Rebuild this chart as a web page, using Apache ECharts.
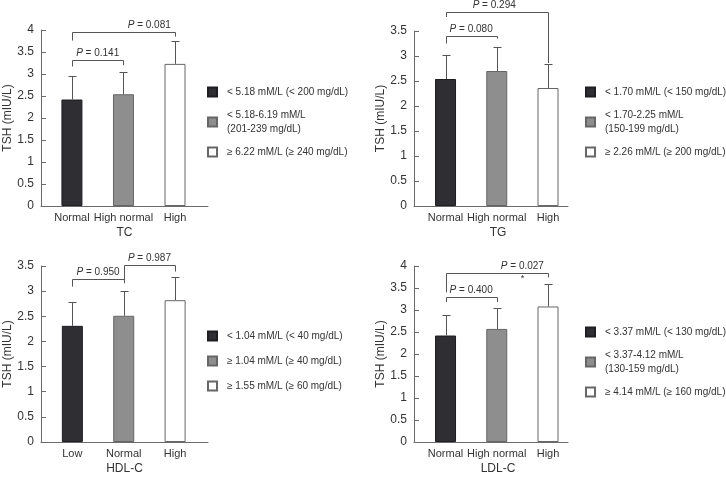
<!DOCTYPE html>
<html>
<head>
<meta charset="utf-8">
<title>TSH by lipid group</title>
<script src="https://cdn.jsdelivr.net/npm/echarts@6/dist/echarts.min.js"></script>
<style>
html, body { margin: 0; padding: 0; background: #fff; }
#main { width: 726px; height: 477px; }
</style>
</head>
<body>
<div id="main"></div>
<script type="text/javascript">
// ---- data ----
var yTicksTC = 4, yTicksTG = 3.5, yTicksHDL = 3.5, yTicksLDL = 4;

var catsTC = ['Normal', 'High normal', 'High'];
var meanTC = [2.42, 2.54, 3.23];
var upperTC = [2.95, 3.05, 3.75];
var legendTC = ['< 5.18 mM/L (< 200 mg/dL)', '< 5.18-6.19 mM/L\n(201-239 mg/dL)', '\u2265 6.22 mM/L (\u2265 240 mg/dL)'];
// [from, to, bracket top, left leg end, right leg end, label x]
var bracketsTC = [[0, 1, 3.32, 3.17, 3.20, 0.5], [0, 2, 3.96, 3.76, 3.85, 1.5]];
var pTC = ['0.141', '0.081'];
var starTC = ['', ''];

var catsTG = ['Normal', 'High normal', 'High'];
var meanTG = [2.54, 2.70, 2.36];
var upperTG = [3.03, 3.18, 2.85];
var legendTG = ['< 1.70 mM/L (< 150 mg/dL)', '< 1.70-2.25 mM/L\n(150-199 mg/dL)', '\u2265 2.26 mM/L (\u2265 200 mg/dL)'];
var bracketsTG = [[0, 1, 3.41, 3.25, 3.35, 0.5], [0, 2, 3.88, 3.78, 2.86, 0.95]];
var pTG = ['0.080', '0.294'];
var starTG = ['', ''];

var catsHDL = ['Low', 'Normal', 'High'];
var meanHDL = [2.31, 2.51, 2.82];
var upperHDL = [2.78, 3.00, 3.29];
var legendHDL = ['< 1.04 mM/L (< 40 mg/dL)', '\u2265 1.04 mM/L (\u2265 40 mg/dL)', '\u2265 1.55 mM/L (\u2265 60 mg/dL)'];
var bracketsHDL = [[0, 1, 3.24, 3.09, 3.16, 0.5], [1, 2, 3.51, 3.16, 3.39, 1.5]];
var pHDL = ['0.950', '0.987'];
var starHDL = ['', ''];

var catsLDL = ['Normal', 'High normal', 'High'];
var meanLDL = [2.42, 2.57, 3.08];
var upperLDL = [2.89, 3.05, 3.58];
var legendLDL = ['< 3.37 mM/L (< 130 mg/dL)', '< 3.37-4.12 mM/L\n(130-159 mg/dL)', '\u2265 4.14 mM/L (\u2265 160 mg/dL)'];
var bracketsLDL = [[0, 1, 3.29, 3.18, 3.18, 0.5], [0, 2, 3.84, 3.40, 3.74, 1.5]];
var pLDL = ['0.400', '0.027'];
var starLDL = ['', '*'];

var xNames = ['TC', 'TG', 'HDL-C', 'LDL-C'];

// ---- layout / style ----
var FONT = "'Liberation Sans', Arial, sans-serif";
var AXIS = '#6b6b6b';
var TEXT = '#333';
var fills = ['#2e2e33', '#8e8e8e', '#ffffff'];
var borders = ['#1e1e22', '#666666', '#666666'];

var panels = [
	{ cats: catsTC, mean: meanTC, upper: upperTC, legend: legendTC, br: bracketsTC, p: pTC, star: starTC, ymax: yTicksTC,
	  grid: { left: 41, top: 30, width: 167, height: 176 }, xmin: -0.6, xmax: 2.64, legPos: { left: 207, top: 85 }, gap: 9, nameShift: 0 },
	{ cats: catsTG, mean: meanTG, upper: upperTG, legend: legendTG, br: bracketsTG, p: pTG, star: starTG, ymax: yTicksTG,
	  grid: { left: 414, top: 31, width: 154, height: 175 }, xmin: -0.615, xmax: 2.39, legPos: { left: 585, top: 85 }, gap: 9, nameShift: 14 },
	{ cats: catsHDL, mean: meanHDL, upper: upperHDL, legend: legendHDL, br: bracketsHDL, p: pHDL, star: starHDL, ymax: yTicksHDL,
	  grid: { left: 41, top: 266, width: 167, height: 176 }, xmin: -0.61, xmax: 2.64, legPos: { left: 207, top: 329 }, gap: 11, nameShift: 0 },
	{ cats: catsLDL, mean: meanLDL, upper: upperLDL, legend: legendLDL, br: bracketsLDL, p: pLDL, star: starLDL, ymax: yTicksLDL,
	  grid: { left: 414, top: 266, width: 154, height: 176 }, xmin: -0.615, xmax: 2.39, legPos: { left: 585, top: 325 }, gap: 9, nameShift: 14 }
];

var option = { animation: false, textStyle: { fontFamily: FONT }, grid: [], xAxis: [], yAxis: [], legend: [], series: [] };

panels.forEach(function (pn, i) {
	option.grid.push(pn.grid);
	option.xAxis.push({
		type: 'value', gridIndex: i, min: pn.xmin, max: pn.xmax,
		axisLine: { show: true, onZero: false, lineStyle: { color: AXIS } },
		axisTick: { show: false }, splitLine: { show: false },
		axisLabel: {
			customValues: [0, 1, 2], color: TEXT, fontSize: 11, margin: 6, fontFamily: FONT, hideOverlap: false,
			formatter: (function (c) { return function (v) { return c[Math.round(v)] || ''; }; })(pn.cats)
		},
		name: xNames[i], nameLocation: 'middle', nameGap: 21,
		nameTextStyle: { color: TEXT, fontSize: 12, fontFamily: FONT, padding: [0, 0, 0, pn.nameShift] }
	});
	option.yAxis.push({
		type: 'value', gridIndex: i, min: 0, max: pn.ymax, interval: 0.5,
		axisLine: { show: true, onZero: false, lineStyle: { color: AXIS } },
		axisTick: { show: true, inside: true, length: 5, lineStyle: { color: AXIS } },
		splitLine: { show: false },
		axisLabel: { color: TEXT, fontSize: 12, margin: 7, fontFamily: FONT },
		name: 'TSH (mIU/L)', nameLocation: 'middle', nameGap: 27,
		nameTextStyle: { color: TEXT, fontSize: 12, fontFamily: FONT }
	});
	option.legend.push({
		orient: 'vertical', left: pn.legPos.left, top: pn.legPos.top, padding: 0,
		itemWidth: 9, itemHeight: 9, itemGap: pn.gap, icon: 'rect', selectedMode: false,
		data: pn.legend,
		textStyle: { color: TEXT, fontSize: 10, lineHeight: 14, fontFamily: FONT, padding: [0, 0, 0, 5] }
	});
	// bars, one series per group so the legend can pick them up
	pn.cats.forEach(function (c, j) {
		option.series.push({
			type: 'bar', name: pn.legend[j], xAxisIndex: i, yAxisIndex: i,
			barWidth: 21, barGap: '-100%',
			itemStyle: { color: fills[j], borderColor: borders[j], borderWidth: 1 },
			data: [[j, pn.mean[j]]]
		});
	});
	// error bars (mean -> mean + SD)
	option.series.push({
		type: 'custom', xAxisIndex: i, yAxisIndex: i, z: 5, silent: true,
		data: pn.mean.map(function (m, j) { return [j, m, pn.upper[j]]; }),
		renderItem: function (params, api) {
			var b = api.coord([api.value(0), api.value(1)]);
			var t = api.coord([api.value(0), api.value(2)]);
			var x = Math.round(b[0]) + 0.5, ty = Math.round(t[1]) + 0.5;
			return { type: 'group', children: [
				{ type: 'line', shape: { x1: x, y1: b[1], x2: x, y2: ty }, style: { stroke: '#555', lineWidth: 1 } },
				{ type: 'line', shape: { x1: x - 4, y1: ty, x2: x + 4, y2: ty }, style: { stroke: '#555', lineWidth: 1 } }
			] };
		}
	});
	// significance brackets
	option.series.push({
		type: 'custom', xAxisIndex: i, yAxisIndex: i, z: 6, silent: true, clip: false,
		data: pn.br,
		renderItem: (function (pn) { return function (params, api) {
			var k = params.dataIndex;
			var l = api.coord([api.value(0), api.value(2)]);
			var r = api.coord([api.value(1), api.value(2)]);
			var le = api.coord([api.value(0), api.value(3)]);
			var re = api.coord([api.value(1), api.value(4)]);
			var tx = api.coord([api.value(5), api.value(2)]);
			var y = Math.round(l[1]) + 0.5, xl = Math.round(l[0]) + 0.5, xr = Math.round(r[0]) + 0.5;
			var kids = [
				{ type: 'polyline', shape: { points: [[xl, le[1]], [xl, y], [xr, y], [xr, re[1]]] },
				  style: { stroke: '#555', fill: null, lineWidth: 1 } },
				{ type: 'text', style: {
					x: tx[0], y: y - 2, text: '{i|P} = ' + pn.p[k], align: 'center', verticalAlign: 'bottom',
					fill: TEXT, font: '10px ' + FONT,
					rich: { i: { fontStyle: 'italic', fontSize: 10, fontFamily: FONT, fill: TEXT } }
				} }
			];
			if (pn.star[k]) {
				kids.push({ type: 'text', style: { x: tx[0], y: y + 1, text: pn.star[k], align: 'center', verticalAlign: 'top',
					fill: TEXT, font: '9px ' + FONT } });
			}
			return { type: 'group', children: kids };
		}; })(pn)
	});
});

var myChart = echarts.init(document.getElementById('main'));
myChart.setOption(option);
</script>
</body>
</html>
